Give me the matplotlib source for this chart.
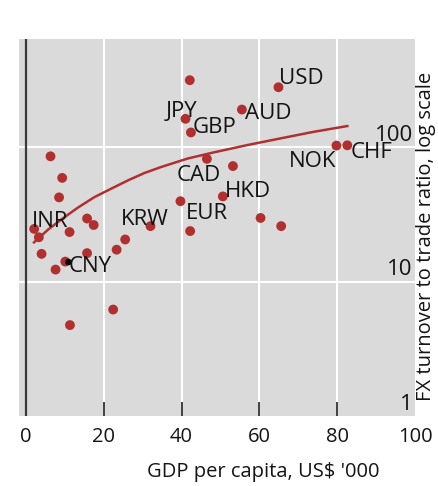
"""FX turnover to trade ratio against GDP per capita (log scale)."""

import matplotlib
matplotlib.use("Agg")
import matplotlib.pyplot as plt

plt.rcParams["font.family"] = ["Open Sans", "DejaVu Sans"]

# GDP per capita (US$ '000) and FX turnover / trade ratio, one entry per currency
GDP = [42.1, 41.0, 42.4, 55.5, 64.9, 46.5, 53.2, 39.7, 50.6, 60.3, 65.6,
       42.2, 32.0, 79.8, 82.6, 6.3, 9.3, 8.5, 15.7, 17.4, 2.1, 3.3, 11.2,
       4.0, 15.7, 10.1, 7.6, 25.5, 23.3, 22.4, 11.3]
RATIO = [316, 163, 129, 191, 280, 82, 72.5, 39.7, 43.1, 29.8, 25.9,
         23.8, 25.9, 103, 103.5, 85.7, 59.2, 42.4, 29.5, 26.4, 24.7, 21.4, 23.4,
         16.1, 16.3, 14.1, 12.3, 20.6, 17.3, 6.2, 4.75]

# highlighted point (CNY)
CNY_GDP = [10.9]
CNY_RATIO = [14.0]

# fitted trend
TREND_X = [2.05, 5.6, 9.05, 13.3, 17.6, 21.9, 26.2, 30.4, 34.7, 41.5,
           48.0, 56.6, 65.1, 73.7, 82.6]
TREND_Y = [19.6, 24.3, 29.0, 35.5, 42.6, 49.2, 56.7, 64.3, 71.3, 82.4,
           91.3, 103.5, 116, 130, 144]

LABELS = ["USD", "JPY", "GBP", "AUD", "CAD", "HKD", "EUR", "KRW", "INR", "CNY", "NOK", "CHF"]
LABEL_X = [65.1, 35.9, 42.9, 56.2, 38.6, 51.0, 41.2, 24.5, 1.6, 11.0, 67.7, 83.5]
LABEL_Y = [295, 167, 127, 162, 55.7, 42.7, 29.5, 26.2, 25.3, 11.8, 71.5, 82.8]

X_TICKS = [0, 20, 40, 60, 80, 100]
Y_TICKS = [1, 10, 100]

RED = "#b22f2f"
GREY_BG = "#dadada"
TEXT = "#141414"

W, H = 439, 486
fig = plt.figure(figsize=(W / 100, H / 100), dpi=100)
ax = fig.add_axes([19 / W, 1 - 416 / H, 396 / W, 377 / H])
ax.set_facecolor(GREY_BG)
for s in ax.spines.values():
    s.set_visible(False)

ax.set_yscale("log")
ax.set_xlim(-1.8, 100)
ax.set_ylim(1, 640)

# white grid
for x in X_TICKS[1:-1]:
    ax.axvline(x, color="white", lw=1.5, zorder=1)
for y in Y_TICKS[1:]:
    ax.axhline(y, color="white", lw=1.5, zorder=1)

# left axis line at zero and inward tick marks along the bottom
ax.axvline(0, color="#3a3a3a", lw=1.6, zorder=2)
ax.vlines(X_TICKS[1:-1], 0, 14 / 377, transform=ax.get_xaxis_transform(),
          color="#404040", lw=1.4, zorder=2)

ax.set_xticks(X_TICKS)
ax.set_xticklabels([str(v) for v in X_TICKS], fontsize=14.5, color=TEXT)
ax.tick_params(axis="x", length=0, pad=8)
ax.set_yticks([])
ax.minorticks_off()

# y tick labels sit inside the plot, right aligned, just above each line
ytr = ax.get_yaxis_transform()
for v in Y_TICKS:
    ax.annotate(str(v), (1.0, v), xycoords=ytr, xytext=(-1.5, 4.5), textcoords="offset points",
                ha="right", va="baseline", fontsize=16, color=TEXT)

ax.plot(TREND_X, TREND_Y, color=RED, lw=1.8, zorder=3)
ax.scatter(GDP, RATIO, s=50, color=RED, edgecolors="none", zorder=4)
ax.scatter(CNY_GDP, CNY_RATIO, s=22, color="black", edgecolors="none", zorder=5)

for name, x, y in zip(LABELS, LABEL_X, LABEL_Y):
    ax.text(x, y, name, ha="left", va="baseline", fontsize=16, color=TEXT, zorder=6)

ax.text((263 - 19) / 396, (416 - 477) / 377, "GDP per capita, US$ '000",
        transform=ax.transAxes, ha="center", va="baseline", fontsize=14.5, color=TEXT)
ax.text((431 - 19) / 396, (416 - 236) / 377, "FX turnover to trade ratio, log scale",
        transform=ax.transAxes, rotation=90, rotation_mode="anchor",
        ha="center", va="baseline", fontsize=14.5, color=TEXT)

fig.savefig("out.png", dpi=100)
